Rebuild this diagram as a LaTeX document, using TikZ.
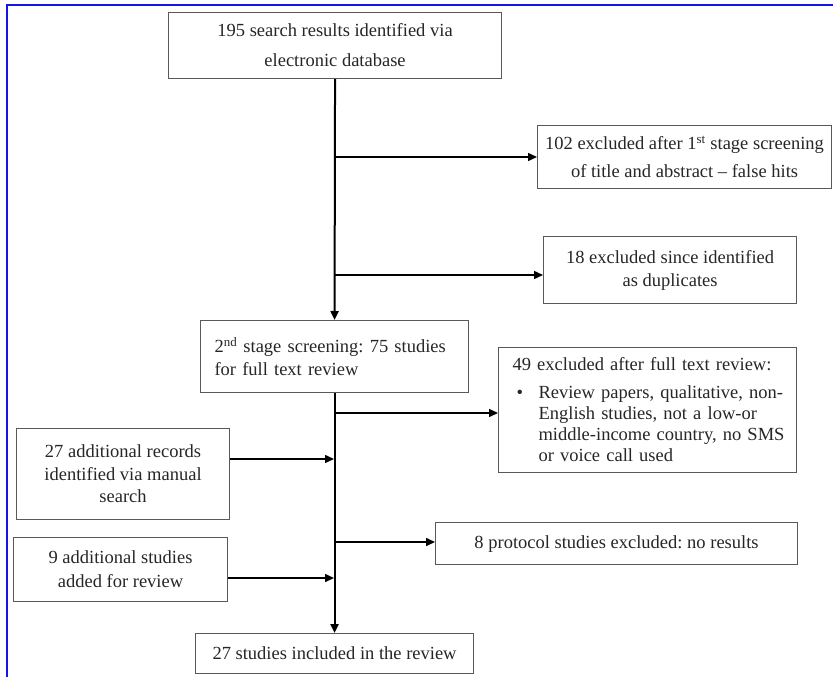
\documentclass[tikz,border=0pt]{standalone}
\usepackage{fontspec}
\setmainfont{Liberation Serif}
\usetikzlibrary{arrows.meta}
\definecolor{frameblue}{RGB}{20,20,235}
\frenchspacing
\begin{document}
\begin{tikzpicture}[x=1pt,y=-1pt,
  box/.style={draw=black!65, line width=1.1pt, inner sep=0pt, anchor=north west,
    align=center, text=black!85, font=\fontsize{18.5}{23}\selectfont},
  arr/.style={line width=1.5pt, -{Triangle[length=9pt,width=8pt]}},
  trunk/.style={line width=2pt}]
\useasboundingbox (0,0) rectangle (833,677);
\draw[frameblue, line width=2.5pt] (7,677) -- (7,5) -- (833,5);

\node[box, minimum width=333pt, minimum height=66pt, font=\fontsize{18.5}{30}\selectfont] (top) at (168,12)
  {195 search results identified via\\electronic database};
\node[box, minimum width=294pt, minimum height=63pt, font=\fontsize{18.5}{28}\selectfont] (ex1) at (537,125)
  {102 excluded after 1\textsuperscript{st} stage screening\\of title and abstract -- false hits};
\node[box, minimum width=253pt, minimum height=67pt] (ex2) at (543,236)
  {18 excluded since identified\\as duplicates};
\node[box, minimum width=268pt, minimum height=72pt, align=left, text width=240pt, inner xsep=14pt] (s2) at (200,320)
  {2\textsuperscript{nd} stage screening: 75 studies\\for full text review};
\node[box, minimum width=298pt, minimum height=125pt, align=left, text width=270pt, inner xsep=14pt,
  font=\fontsize{18.5}{21}\selectfont] (ex3) at (498,347)
  {49 excluded after full text review:\\[7pt]
   \makebox[26pt][l]{\hspace{4pt}•}\makebox[244pt][s]{Review papers, qualitative, non-}\\
   \hspace*{26pt}\makebox[244pt][s]{English studies, not a low-or}\\
   \hspace*{26pt}\makebox[244pt][s]{middle-income country, no SMS}\\
   \hspace*{26pt}or voice call used};
\node[box, minimum width=213pt, minimum height=91pt, font=\fontsize{18.5}{22.5}\selectfont] (add1) at (16,428)
  {27 additional records\\identified via manual\\search};
\node[box, minimum width=214pt, minimum height=64pt, font=\fontsize{18.5}{24}\selectfont] (add2) at (13,537)
  {9 additional studies\\added for review};
\node[box, minimum width=362pt, minimum height=42pt] (ex4) at (435,522)
  {8 protocol studies excluded: no results};
\node[box, minimum width=278pt, minimum height=40pt] (fin) at (195,633)
  {27 studies included in the review};

\coordinate (j1) at (334,157);
\coordinate (j2) at (334,275);
\coordinate (j3) at (334,413);
\coordinate (a1) at (334,459);
\coordinate (j4) at (334,542);
\coordinate (a2) at (334,578);

\draw[arr, trunk] (top.south) -- (s2.north);
\draw[arr, trunk] (s2.south) -- (fin.north);
\draw[arr] (j1) -- (j1 -| ex1.west);
\draw[arr] (j2) -- (j2 -| ex2.west);
\draw[arr] (j3) -- (j3 -| ex3.west);
\draw[arr] (j4) -- (j4 -| ex4.west);
\draw[arr] (a1 -| add1.east) -- (a1);
\draw[arr] (a2 -| add2.east) -- (a2);
\end{tikzpicture}
\end{document}
